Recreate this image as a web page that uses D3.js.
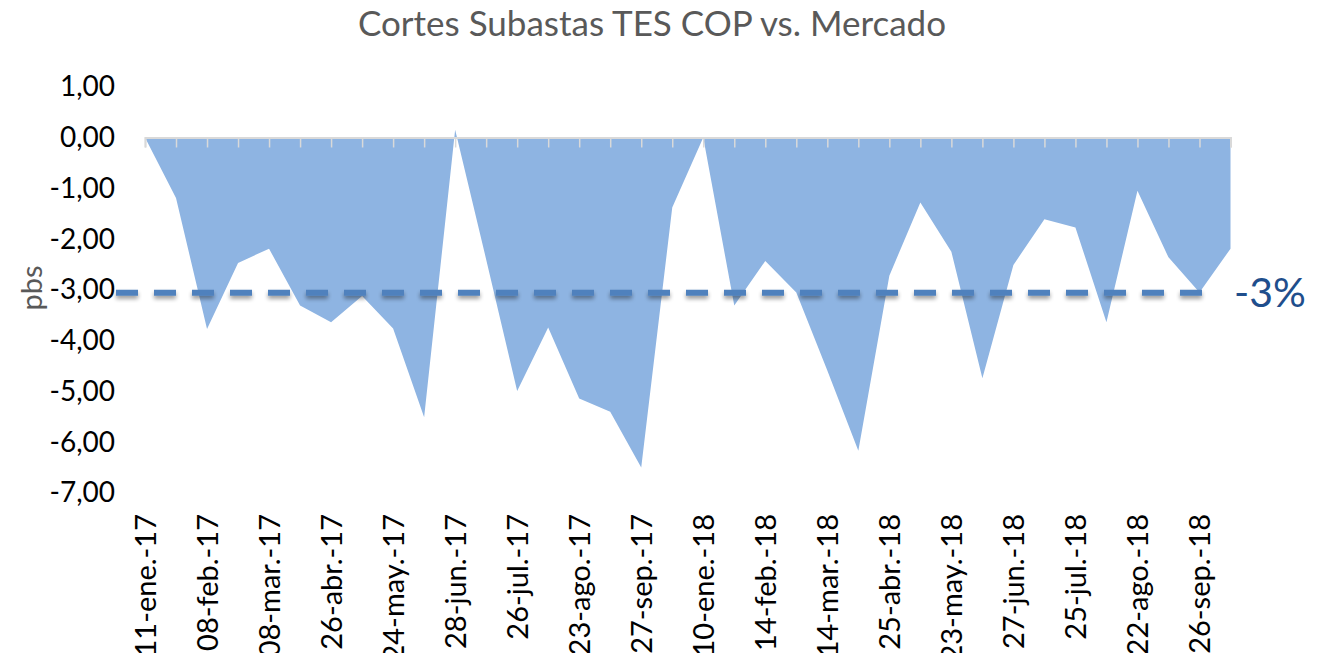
<!DOCTYPE html>
<html>
<head>
<meta charset="utf-8">
<script src="https://cdn.jsdelivr.net/npm/d3@7"></script>
<style>
  html, body { margin: 0; padding: 0; background: #fff; overflow: hidden; }
  svg { display: block; font-family: "Lato", "Open Sans", sans-serif; }
</style>
</head>
<body>
<svg id="chart"></svg>
<script>
var width = 1321, height = 653;

// valores de las subastas (pbs), un punto por subasta
var values = [0, -1.19, -3.77, -2.47, -2.19, -3.31, -3.64, -3.12, -3.76, -5.51,
              0.15, -2.40, -4.99, -3.74, -5.14, -5.40, -6.50, -1.38, 0.00, -3.31,
              -2.43, -3.05, -4.59, -6.17, -2.72, -1.28, -2.25, -4.74, -2.51, -1.61,
              -1.77, -3.64, -1.05, -2.36, -3.05, -2.19];

// etiquetas visibles (una de cada dos subastas)
var tickLabels = ["11-ene.-17", "08-feb.-17", "08-mar.-17", "26-abr.-17", "24-may.-17",
                  "28-jun.-17", "26-jul.-17", "23-ago.-17", "27-sep.-17", "10-ene.-18",
                  "14-feb.-18", "14-mar.-18", "25-abr.-18", "23-may.-18", "27-jun.-18",
                  "25-jul.-18", "22-ago.-18", "26-sep.-18"];

var yTicks = [1, 0, -1, -2, -3, -4, -5, -6, -7];
var threshold = -3;

var svg = d3.select("#chart").attr("width", width).attr("height", height);

var locale = d3.formatLocale({decimal: ",", thousands: ".", grouping: [3], currency: ["$", ""], minus: "-"});
var fmt = locale.format(".2f");

var idx = d3.range(values.length);
var x = d3.scalePoint().domain(idx).range([145, 1230.5]);
var y = d3.scaleLinear().domain([-7, 1]).range([493, 86.7]);

// sombra para la línea punteada
var defs = svg.append("defs");
var f = defs.append("filter").attr("id", "shadow")
  .attr("filterUnits", "userSpaceOnUse")
  .attr("x", 0).attr("y", 250).attr("width", width).attr("height", 100);
f.append("feGaussianBlur").attr("in", "SourceAlpha").attr("stdDeviation", 2);
f.append("feOffset").attr("dx", 0).attr("dy", 3).attr("result", "blur");
f.append("feComponentTransfer").append("feFuncA").attr("type", "linear").attr("slope", 0.4);
var m = f.append("feMerge");
m.append("feMergeNode");
m.append("feMergeNode").attr("in", "SourceGraphic");

// título
svg.append("text")
  .attr("x", 652).attr("y", 36)
  .attr("text-anchor", "middle")
  .style("font-size", "35px")
  .style("fill", "#595959")
  .text("Cortes Subastas TES COP vs. Mercado");

// área
var area = d3.area()
  .x(function(d, i) { return x(i); })
  .y0(y(0))
  .y1(function(d) { return y(d); });

svg.append("path")
  .datum(values)
  .attr("d", area)
  .attr("fill", "#8eb4e2");

// eje de categorías en el cero
var xAxis0 = svg.append("g")
  .attr("transform", "translate(0," + y(0) + ")")
  .call(d3.axisBottom(x).tickSize(10).tickSizeOuter(10).tickFormat(""));
xAxis0.select(".domain").attr("stroke", "#d9d9d9").attr("stroke-width", 2);
xAxis0.selectAll(".tick line").attr("stroke", "#d9d9d9").attr("stroke-width", 1.5);

// etiquetas del eje x
var xAxis = svg.append("g")
  .attr("transform", "translate(0,514)")
  .call(d3.axisBottom(x)
    .tickValues(idx.filter(function(i) { return i % 2 === 0; }))
    .tickSize(0)
    .tickFormat(function(i) { return tickLabels[i / 2]; }));
xAxis.select(".domain").remove();
xAxis.selectAll("text")
  .attr("transform", "rotate(-90)")
  .attr("x", 0).attr("y", 0).attr("dy", "0.35em")
  .attr("text-anchor", "end")
  .style("font-family", "Lato, sans-serif")
  .style("font-size", "29px")
  .style("fill", "#000");

// eje y
var yAxis = svg.append("g")
  .attr("transform", "translate(115,0)")
  .call(d3.axisLeft(y).tickValues(yTicks).tickSize(0).tickPadding(0).tickFormat(fmt));
yAxis.select(".domain").remove();
yAxis.selectAll("text")
  .style("font-family", "Lato, sans-serif")
  .style("font-size", "28px")
  .style("fill", "#000");

svg.append("text")
  .attr("transform", "translate(42," + (y(-3) - 2) + ") rotate(-90)")
  .attr("text-anchor", "middle")
  .style("font-size", "29px")
  .style("fill", "#595959")
  .text("pbs");

// línea de referencia -3
svg.append("line")
  .attr("x1", 116).attr("x2", 1204)
  .attr("y1", y(threshold) + 3).attr("y2", y(threshold) + 3)
  .attr("stroke", "#4f81bd")
  .attr("stroke-width", 6)
  .attr("stroke-dasharray", "22,16")
  .attr("filter", "url(#shadow)");

svg.append("text")
  .attr("x", 1234).attr("y", y(threshold) + 3)
  .attr("dy", "0.35em")
  .style("font-size", "41px")
  .style("fill", "#1f4e8c")
  .text("-3%");
</script>
</body>
</html>
